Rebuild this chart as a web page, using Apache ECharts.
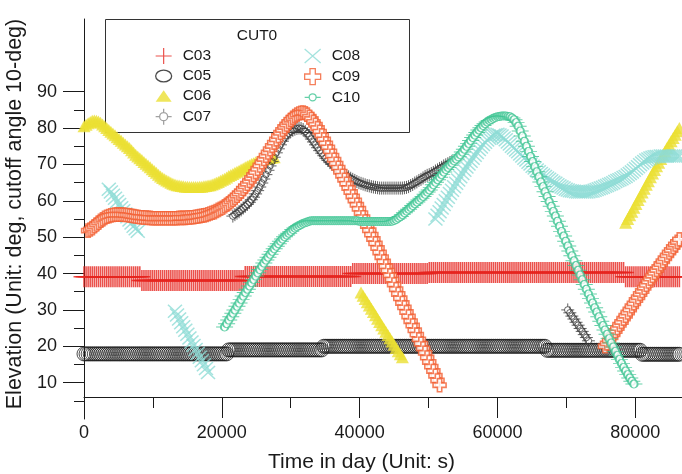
<!DOCTYPE html>
<html>
<head>
<meta charset="utf-8">
<title>CUT0 elevation</title>
<script src="https://cdn.jsdelivr.net/npm/echarts@6.0.0/dist/echarts.min.js"></script>
<style>
  html, body { margin: 0; padding: 0; background: #fff; }
  #chart { width: 682px; height: 474px; }
</style>
</head>
<body>
<div id="chart"></div>
<script>
// one sample every 300 s (elevation, deg)
var STEP = 300;

var c03 = [
  39.1, 39.1, 39.1, 39.1, 39.1, 39.1, 39.1, 39.1, 39.1, 39.1,
  39.1, 39.1, 39.1, 39.1, 39.1, 39.1, 39.1, 39.1, 39.1, 39.1,
  39.1, 39.1, 39.1, 39.1, 39.1, 39.1, 39.1, 39.1, 38.1, 38.1,
  38.1, 38.1, 38.1, 38.1, 38.1, 38.1, 38.1, 38.1, 38.1, 38.1,
  38.1, 38.1, 38.1, 38.1, 38.1, 38.1, 38.1, 38.1, 38.1, 38.1,
  38.1, 38.1, 38.1, 38.1, 38.1, 38.1, 38.1, 38.1, 38.1, 38.1,
  38.1, 38.1, 38.1, 38.1, 38.1, 38.1, 38.1, 38.1, 38.1, 38.1,
  38.1, 38.1, 38.1, 38.1, 38.1, 38.1, 38.1, 38.1, 39.2, 39.2,
  39.2, 39.2, 39.2, 39.2, 39.2, 39.2, 39.2, 39.2, 39.2, 39.2,
  39.2, 39.2, 39.2, 39.2, 39.2, 39.2, 39.2, 39.2, 39.2, 39.2,
  39.2, 39.2, 39.2, 39.2, 39.2, 39.2, 39.2, 39.2, 39.2, 39.2,
  39.2, 39.2, 39.2, 39.2, 39.2, 39.2, 39.2, 39.2, 39.2, 39.2,
  39.2, 39.2, 39.2, 39.2, 39.2, 39.2, 39.2, 39.2, 39.2, 39.2,
  40, 40, 40, 40, 40, 40, 40, 40, 40, 40,
  40, 40, 40, 40, 40, 40, 40, 40, 40, 40,
  40, 40, 40, 40, 40, 40, 40, 40, 40, 40,
  40, 40, 40, 40, 40, 40, 40, 40.3, 40.3, 40.3,
  40.3, 40.3, 40.3, 40.3, 40.3, 40.3, 40.3, 40.3, 40.3, 40.3,
  40.3, 40.3, 40.3, 40.3, 40.3, 40.3, 40.3, 40.3, 40.3, 40.3,
  40.3, 40.3, 40.3, 40.3, 40.3, 40.3, 40.3, 40.3, 40.3, 40.3,
  40.3, 40.3, 40.3, 40.3, 40.3, 40.3, 40.3, 40.3, 40.3, 40.3,
  40.3, 40.3, 40.3, 40.3, 40.3, 40.3, 40.3, 40.3, 40.3, 40.3,
  40.3, 40.3, 40.3, 40.3, 40.3, 40.3, 40.3, 40.3, 40.3, 40.3,
  40.3, 40.3, 40.3, 40.3, 40.3, 40.3, 40.3, 40.3, 40.3, 40.3,
  40.3, 40.3, 40.3, 40.3, 40.3, 40.3, 40.3, 40.3, 40.3, 40.3,
  40.3, 40.3, 40.3, 40.3, 40.3, 40.3, 40.3, 40.3, 40.3, 40.3,
  40.3, 40.3, 39.1, 39.1, 39.1, 39.1, 39.1, 39.1, 39.1, 39.1,
  39.1, 39.1, 39.1, 39.1, 39.1, 39.1, 39.1, 39.1, 39.1, 39.1,
  39.1, 39.1, 39.1, 39.1, 39.1, 39.1, 39.1, 39.1, 39.1
];

var c05 = [
  17.9, 17.9, 17.9, 17.9, 17.9, 17.9, 17.9, 17.9, 17.9, 17.9,
  17.9, 17.9, 17.9, 17.9, 17.9, 17.9, 17.9, 17.9, 17.9, 17.9,
  17.9, 17.9, 17.9, 17.9, 17.9, 17.9, 17.9, 17.9, 17.9, 17.9,
  17.9, 17.9, 17.9, 17.9, 17.9, 17.9, 17.9, 17.9, 17.9, 17.9,
  17.9, 17.9, 17.9, 17.9, 17.9, 17.9, 17.9, 17.9, 17.9, 17.9,
  17.9, 17.9, 17.9, 17.9, 17.9, 17.9, 17.9, 17.9, 17.9, 17.9,
  17.9, 17.9, 17.9, 17.9, 17.9, 17.9, 17.9, 17.9, 17.9, 17.9,
  19, 19, 19, 19, 19, 19, 19, 19, 19, 19,
  19, 19, 19, 19, 19, 19, 19, 19, 19, 19,
  19, 19, 19, 19, 19, 19, 19, 19, 19, 19,
  19, 19, 19, 19, 19, 19, 19, 19, 19, 19,
  19, 19, 19, 19, 19, 19, 20, 20, 20, 20,
  20, 20, 20, 20, 20, 20, 20, 20, 20, 20,
  20, 20, 20, 20, 20, 20, 20, 20, 20, 20,
  20, 20, 20, 20, 20, 20, 20, 20, 20, 20,
  20, 20, 20, 20, 20, 20, 20, 20, 20, 20,
  20, 20, 20, 20, 20, 20, 20, 20, 20, 20,
  20, 20, 20, 20, 20, 20, 20, 20, 20, 20,
  20, 20, 20, 20, 20, 20, 20, 20, 20, 20,
  20, 20, 20, 20, 20, 20, 20, 20, 20, 20,
  20, 20, 20, 20, 20, 20, 20, 20, 20, 20,
  20, 20, 20, 20, 20, 20, 20, 20, 20, 20,
  20, 20, 20, 20, 18.9, 18.9, 18.9, 18.9, 18.9, 18.9,
  18.9, 18.9, 18.9, 18.9, 18.9, 18.9, 18.9, 18.9, 18.9, 18.9,
  18.9, 18.9, 18.9, 18.9, 18.9, 18.9, 18.9, 18.9, 18.9, 18.9,
  18.9, 18.9, 18.9, 18.9, 18.9, 18.9, 18.9, 18.9, 18.9, 18.9,
  18.9, 18.9, 18.9, 18.9, 18.9, 18.9, 18.9, 18.9, 18.9, 18.9,
  17.8, 17.8, 17.8, 17.8, 17.8, 17.8, 17.8, 17.8, 17.8, 17.8,
  17.8, 17.8, 17.8, 17.8, 17.8, 17.8, 17.8, 17.8, 17.8
];

var c06Starts = [0, 40200, 78600];
var c06Parts = [
  [80.5, 80.9, 81.3, 81.7, 82, 82.1, 82, 81.8, 81.5, 81,
   80.5, 80, 79.5, 79, 78.5, 78, 77.5, 77, 76.5, 76,
   75.5, 75, 74.5, 73.9, 73.3, 72.7, 72.2, 71.7, 71.2, 70.7,
   70.2, 69.7, 69.2, 68.7, 68.2, 67.7, 67.2, 66.7, 66.3, 65.9,
   65.6, 65.3, 65, 64.7, 64.5, 64.3, 64.2, 64.1, 64, 63.9,
   63.9, 63.8, 63.8, 63.8, 63.8, 63.8, 63.9, 63.9, 64, 64.1,
   64.2, 64.3, 64.5, 64.7, 65, 65.2, 65.5, 65.8, 66.1, 66.4,
   66.8, 67.1, 67.4, 67.7, 68, 68.3, 68.6, 68.9, 69.2, 69.5,
   69.8, 70.1, 70.3, 70.6, 70.8, 71, 71.2, 71.4, 71.5, 71.7,
   71.8, 71.9, 72],
  [34.8, 33.9, 33, 32.1, 31.2, 30.3, 29.4, 28.5, 27.6, 26.7,
   25.8, 24.9, 24, 23.1, 22.2, 21.3, 20.4, 19.5, 18.6, 17.8, 17],
  [54, 55, 56, 57, 58.1, 59.1, 60.2, 61.2, 62.3, 63.3,
   64.4, 65.4, 66.5, 67.5, 68.5, 69.5, 70.5, 71.5, 72.5, 73.5,
   74.5, 75.4, 76.4, 77.3, 78.2, 79.1, 80]
];

var c07Starts = [21600, 70200];
var c07Parts = [
  [55.8, 56.2, 56.6, 57, 57.5, 58, 58.5, 59, 59.6, 60.3,
   61, 61.9, 62.8, 63.8, 64.9, 66, 67.2, 68.4, 69.6, 70.8,
   72, 73.2, 74.3, 75.4, 76.4, 77.3, 78, 78.6, 79.1, 79.4,
   79.7, 79.9, 80, 79.9, 79.6, 79.1, 78.5, 77.8, 77, 76.2,
   75.4, 74.6, 73.8, 73.1, 72.4, 71.7, 71.1, 70.5, 70, 69.5,
   69, 68.6, 68.2, 67.7, 67.3, 66.9, 66.6, 66.2, 65.9, 65.6,
   65.3, 65, 64.8, 64.6, 64.4, 64.2, 64.1, 63.9, 63.8, 63.7,
   63.6, 63.5, 63.5, 63.5, 63.5, 63.5, 63.5, 63.5, 63.5, 63.5,
   63.5, 63.5, 63.5, 63.6, 63.7, 63.9, 64.2, 64.5, 64.9, 65.2,
   65.6, 65.9, 66.3, 66.7, 67, 67.2, 67.5, 67.8, 68.2, 68.5,
   68.9, 69.2, 69.6, 69.9, 70.2, 70.5, 70.8],
  [30, 29.2, 28.3, 27.5, 26.6, 25.8, 24.9, 24.1, 23.2, 22.4, 21.5]
];

var c08Starts = [3600, 13200, 51000];
var c08Parts = [
  [63.2, 62.4, 61.5, 60.7, 59.8, 59, 58.1, 57.3, 56.4, 55.6,
   54.7, 53.9, 53, 52.3, 51.6],
  [29.6, 28.6, 27.5, 26.5, 25.4, 24.4, 23.3, 22.3, 21.2, 20.2,
   19.1, 18.1, 17, 16, 14.9, 13.9, 12.8],
  [55, 56, 57, 58, 59, 60, 61, 62, 62.9, 63.9,
   64.8, 65.7, 66.6, 67.5, 68.4, 69.3, 70.1, 70.9, 71.7, 72.5,
   73.3, 74.1, 74.8, 75.5, 76.1, 76.7, 77.2, 77.6, 78, 78.2,
   78.3, 78.1, 77.8, 77.3, 76.8, 76.2, 75.6, 75, 74.5, 74,
   73.5, 72.9, 72.3, 71.7, 71.2, 70.6, 70.1, 69.5, 69, 68.5,
   68, 67.5, 67.1, 66.7, 66.3, 65.9, 65.5, 65.1, 64.8, 64.4,
   64.1, 63.8, 63.5, 63.2, 63, 62.8, 62.7, 62.6, 62.5, 62.4,
   62.4, 62.4, 62.4, 62.4, 62.5, 62.6, 62.7, 62.9, 63.1, 63.3,
   63.5, 63.7, 64, 64.2, 64.5, 64.7, 65, 65.3, 65.6, 65.8,
   66.1, 66.4, 66.7, 67.1, 67.5, 67.9, 68.4, 68.9, 69.4, 69.9,
   70.4, 70.8, 71.2, 71.5, 71.8, 72, 72.1, 72.2, 72.2, 72.3,
   72.3, 72.3, 72.3, 72.3, 72.3, 72.3, 72.3, 72.3, 72.3]
];

var c09Starts = [600, 75600];
var c09Parts = [
  [51.8, 52.1, 52.5, 53, 53.5, 54, 54.5, 54.9, 55.3, 55.6,
   55.8, 56, 56.1, 56.2, 56.2, 56.2, 56.2, 56.2, 56.1, 56.1,
   56, 55.9, 55.8, 55.7, 55.6, 55.5, 55.5, 55.4, 55.4, 55.3,
   55.3, 55.2, 55.2, 55.2, 55.2, 55.2, 55.2, 55.2, 55.2, 55.2,
   55.2, 55.2, 55.2, 55.2, 55.3, 55.3, 55.3, 55.3, 55.4, 55.4,
   55.5, 55.5, 55.6, 55.7, 55.8, 55.9, 56, 56.1, 56.3, 56.5,
   56.7, 56.9, 57.2, 57.5, 57.8, 58.1, 58.5, 58.9, 59.3, 59.8,
   60.3, 60.8, 61.4, 62, 62.6, 63.3, 64, 64.7, 65.5, 66.3,
   67.1, 67.9, 68.8, 69.7, 70.6, 71.5, 72.4, 73.3, 74.2, 75.1,
   76, 76.9, 77.8, 78.7, 79.5, 80.3, 81, 81.7, 82.3, 82.8,
   83.3, 83.7, 84, 84.2, 84.3, 84.1, 83.7, 83.1, 82.5, 81.7,
   80.9, 80, 79, 78, 76.9, 75.8, 74.7, 73.6, 72.4, 71.3,
   70.2, 69.1, 68, 66.9, 65.8, 64.7, 63.5, 62.4, 61.2, 60.1,
   58.9, 57.8, 56.6, 55.5, 54.3, 53.1, 51.9, 50.7, 49.5, 48.3,
   47, 45.8, 44.5, 43.3, 42, 40.8, 39.5, 38.3, 37, 35.7,
   34.4, 33.2, 31.9, 30.7, 29.4, 28.2, 26.9, 25.7, 24.4, 23.2,
   21.9, 20.7, 19.4, 18.2, 16.9, 15.7, 14.4, 13.2, 11.9, 10.6,
   9.3],
  [20, 20.8, 21.6, 22.5, 23.3, 24.2, 25, 25.9, 26.7, 27.6,
   28.4, 29.3, 30.1, 31, 31.8, 32.7, 33.5, 34.4, 35.2, 36.1,
   36.9, 37.8, 38.6, 39.4, 40.2, 41, 41.8, 42.6, 43.4, 44.2,
   45, 45.8, 46.5, 47.3, 48, 48.7, 49.4]
];

var c10Starts = [20400];
var c10Parts = [
  [25.3, 26.2, 27.2, 28.1, 29.1, 30, 31, 31.9, 32.9, 33.8,
   34.8, 35.7, 36.6, 37.5, 38.4, 39.3, 40.2, 41.1, 42, 42.9,
   43.7, 44.5, 45.3, 46.1, 46.8, 47.5, 48.2, 48.9, 49.5, 50.1,
   50.6, 51.1, 51.6, 52.1, 52.5, 52.9, 53.2, 53.5, 53.8, 54,
   54.2, 54.4, 54.5, 54.5, 54.5, 54.5, 54.5, 54.5, 54.5, 54.5,
   54.5, 54.5, 54.5, 54.5, 54.5, 54.5, 54.5, 54.5, 54.5, 54.5,
   54.5, 54.5, 54.5, 54.5, 54.5, 54.4, 54.3, 54.3, 54.3, 54.3,
   54.3, 54.3, 54.3, 54.3, 54.3, 54.3, 54.3, 54.3, 54.3, 54.3,
   54.3, 54.4, 54.6, 54.9, 55.3, 55.7, 56.2, 56.7, 57.2, 57.7,
   58.2, 58.7, 59.2, 59.7, 60.2, 60.7, 61.2, 61.8, 62.4, 63,
   63.7, 64.4, 65.1, 65.8, 66.5, 67.2, 67.9, 68.6, 69.2, 69.8,
   70.4, 71, 71.5, 72.1, 72.7, 73.4, 74.2, 75, 75.8, 76.6,
   77.4, 78.1, 78.8, 79.5, 80.1, 80.7, 81.2, 81.7, 82.1, 82.4,
   82.7, 82.9, 83.1, 83.2, 83.3, 83.3, 83.3, 83.2, 83.1, 82.8,
   82.3, 81.5, 80.5, 79.2, 77.8, 76.4, 75, 73.6, 72.2, 70.8,
   69.4, 68, 66.6, 65.2, 63.9, 62.5, 61.2, 59.8, 58.5, 57.1,
   55.8, 54.4, 53, 51.6, 50.3, 48.9, 47.6, 46.2, 44.9, 43.5,
   42.2, 40.9, 39.6, 38.3, 37, 35.7, 34.4, 33.1, 31.9, 30.6,
   29.4, 28.1, 26.9, 25.7, 24.5, 23.3, 22.1, 20.9, 19.8, 18.6,
   17.5, 16.4, 15.3, 14.2, 13.2, 12.2, 11.3, 10.4, 9.6]
];

var xTicks = [0, 20000, 40000, 60000, 80000];
var xMinorTicks = [10000, 30000, 50000, 70000];
var yTicks = [10, 20, 30, 40, 50, 60, 70, 80, 90];
var yMinorTicks = [5, 15, 25, 35, 45, 55, 65, 75, 85];

function toPoints(starts, parts) {
  var pts = [];
  parts.forEach(function (vals, k) {
    vals.forEach(function (v, i) {
      pts.push([starts[k] + i * STEP, v]);
    });
  });
  return pts;
}

var FONT = '"Liberation Sans", Arial, Helvetica, sans-serif';
var INK = '#1a1a1a';
var X_MAX = 86780;

// marker shapes
var PLUS = 'path://M10,0h1.6v10h10v1.6h-10v10h-1.6v-10h-10v-1.6h10z';
var ELLIPSE = 'path://M0,5.5a7.5,5.5 0 1,0 15,0a7.5,5.5 0 1,0 -15,0z';
var TRI = 'path://M7.5,0L15,11H0Z';
var RETICLE = 'path://M12,8a4,4 0 1,1 -8,0a4,4 0 1,1 8,0zM0,8h4M12,8h4M8,0v4M8,12v4';
var CROSS = 'path://M0,0L16,14M16,0L0,14';
var FAT_PLUS = 'path://M4,0h4v4h4v4h-4v4h-4v-4h-4v-4h4z';
var DASH_O = 'path://M0,4h4.5M11.5,4h4.5M11.5,4a3.5,3.5 0 1,1 -7,0a3.5,3.5 0 1,1 7,0z';

function scatter(name, data, symbol, size, style) {
  return {
    name: name,
    type: 'scatter',
    data: data,
    symbol: symbol,
    symbolSize: size,
    itemStyle: style,
    silent: true
  };
}

var chart = echarts.init(document.getElementById('chart'));

var legendCommon = {
  orient: 'vertical',
  top: 48,
  padding: 0,
  itemWidth: 16,
  itemHeight: 16,
  itemGap: 4,
  symbolKeepAspect: true,
  selectedMode: false,
  itemStyle: { borderWidth: 1.3 },
  textStyle: { fontSize: 15.5, color: INK, fontFamily: FONT, padding: [0, 0, 0, 6] }
};

chart.setOption({
  animation: false,
  textStyle: { fontFamily: FONT },
  grid: { left: 84, right: 0, top: 19, height: 400, outerBoundsMode: 'none' },
  graphic: [
    {
      type: 'rect',
      z: 0,
      shape: { x: 105.5, y: 19.5, width: 304, height: 113 },
      style: { fill: '#fff', stroke: '#333', lineWidth: 1 }
    },
    {
      type: 'text',
      z: 5,
      style: {
        x: 257, y: 36, text: 'CUT0', fill: INK,
        font: '15.5px ' + FONT, align: 'center', verticalAlign: 'middle'
      }
    }
  ],
  legend: [
    Object.assign({}, legendCommon, {
      left: 155,
      data: [
        { name: 'C03' },
        { name: 'C05', icon: ELLIPSE },
        { name: 'C06', icon: TRI },
        { name: 'C07', itemStyle: { borderColor: '#8a8a8a' } }
      ]
    }),
    Object.assign({}, legendCommon, {
      left: 304,
      data: ['C08', 'C09', 'C10']
    })
  ],
  xAxis: [
    {
      type: 'value', min: 0, max: X_MAX, interval: 20000,
      position: 'bottom', offset: -22,
      name: 'Time in day (Unit: s)', nameLocation: 'middle', nameGap: 55,
      nameTextStyle: { fontSize: 21, color: INK, fontFamily: FONT, padding: [0, 43, 0, 0] },
      axisLine: { lineStyle: { color: INK, width: 1 } },
      axisTick: { customValues: xTicks, length: 21, lineStyle: { color: INK } },
      axisLabel: {
        customValues: xTicks, fontSize: 18, color: INK, margin: 27,
        formatter: function (v) { return String(v); }
      },
      splitLine: { show: false }
    },
    {
      type: 'value', min: 0, max: X_MAX,
      position: 'bottom', offset: -22,
      axisLine: { show: false },
      axisTick: { customValues: xMinorTicks, length: 11, lineStyle: { color: INK } },
      axisLabel: { show: false },
      splitLine: { show: false }
    }
  ],
  yAxis: [
    {
      type: 'value', min: 0, max: 110, interval: 10,
      position: 'left',
      name: 'Elevation (Unit: deg, cutoff angle 10-deg)', nameLocation: 'middle', nameGap: 54,
      nameTextStyle: { fontSize: 21.5, color: INK, fontFamily: FONT, padding: [0, 0, 0, 10] },
      axisLine: { show: true, lineStyle: { color: INK, width: 1 } },
      axisTick: { show: true, customValues: yTicks, length: 21, lineStyle: { color: INK } },
      axisLabel: { customValues: yTicks, fontSize: 18, color: INK, margin: 27 },
      splitLine: { show: false }
    },
    {
      type: 'value', min: 0, max: 110,
      position: 'left', offset: 0,
      axisLine: { show: false },
      axisTick: { show: true, customValues: yMinorTicks, length: 10, lineStyle: { color: INK } },
      axisLabel: { show: false },
      splitLine: { show: false }
    }
  ],
  series: [
    scatter('C03', toPoints([0], [c03]), PLUS, 21, { color: '#e6261f' }),
    scatter('C05', toPoints([0], [c05]), 'circle', 14,
      { color: 'rgba(0,0,0,0)', borderColor: '#1e1e1e', borderWidth: 1 }),
    scatter('C06', toPoints(c06Starts, c06Parts), 'triangle', [13, 12], { color: '#ebe033' }),
    scatter('C07', toPoints(c07Starts, c07Parts), RETICLE, 13,
      { color: 'rgba(0,0,0,0)', borderColor: '#3a3a3a', borderWidth: 1 }),
    scatter('C08', toPoints(c08Starts, c08Parts), CROSS, [14, 13],
      { color: 'rgba(0,0,0,0)', borderColor: '#8edcd6', borderWidth: 1.5 }),
    scatter('C09', toPoints(c09Starts, c09Parts), FAT_PLUS, 13,
      { color: '#ffffff', borderColor: '#f25f32', borderWidth: 1.6 }),
    scatter('C10', toPoints(c10Starts, c10Parts), DASH_O, [17, 8],
      { color: '#ffffff', borderColor: '#3dc492', borderWidth: 1.4 })
  ]
});
</script>
</body>
</html>
